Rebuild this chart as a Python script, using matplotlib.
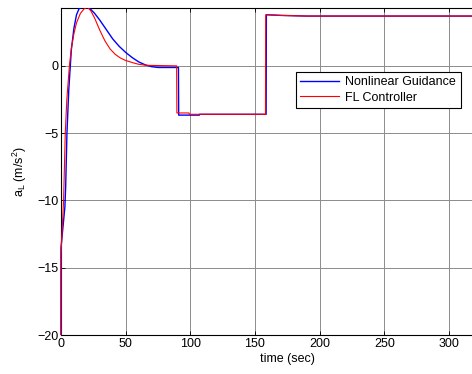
import numpy as np
import matplotlib
matplotlib.use("Agg")
import matplotlib.pyplot as plt
from matplotlib.patches import Rectangle

plt.rcParams['font.family'] = ['Liberation Sans', 'DejaVu Sans']
plt.rcParams['mathtext.fontset'] = 'custom'
plt.rcParams['mathtext.rm'] = 'Liberation Sans'
plt.rcParams['mathtext.it'] = 'Liberation Sans'

# Nonlinear Guidance (blue)
t_ng = [0, 0.01, 0.5, 1.5, 3, 3.6, 4.6, 6, 7.2, 8, 10, 12, 14, 17, 20, 23, 26, 30, 35,
        40, 45, 50, 55, 60, 65, 70, 75, 90.8, 91, 107, 107.2, 158.6, 158.8, 170, 190, 350]
a_ng = [-20, -13.5, -13, -12, -10.5, -9, -5, -1.8, 0, 1.2, 2.8, 3.8, 4.25, 4.4, 4.4, 4.2, 3.9, 3.4, 2.7,
        2.0, 1.45, 1.0, 0.62, 0.3, 0.08, -0.06, -0.12, -0.12, -3.66, -3.66, -3.6, -3.6, 3.8, 3.75, 3.7, 3.7]

# FL Controller (red)
t_fl = [0, 0.01, 0.5, 1, 2, 3.3, 4.5, 6.5, 8, 10, 12, 15, 18, 20.5, 23, 26, 30, 34,
        38, 42, 46, 50, 56, 60, 66, 89.4, 89.6, 99, 99.2, 158.1, 158.3, 170, 190, 350]
a_fl = [-20, -14, -13, -12, -10, -5, -2.5, 0, 1.3, 2.4, 3.2, 3.9, 4.25, 4.35, 4.1, 3.55, 2.65, 1.85,
        1.25, 0.85, 0.58, 0.4, 0.22, 0.12, 0.04, 0.0, -3.5, -3.5, -3.6, -3.6, 3.8, 3.75, 3.7, 3.7]

fig = plt.figure(figsize=(4.72, 3.74), dpi=100)
ax = fig.add_axes([61 / 472, 1 - 335 / 374, 350 * 1.2933 / 472, 327 / 374])

# clip a little wider on the left so the t=0 jump shows over the spine
clip = Rectangle((-0.005, 0), 1.01, 1, transform=ax.transAxes, visible=False)
ax.add_patch(clip)
l1, = ax.plot(t_ng, a_ng, color='#0000ff', lw=1.0, label='Nonlinear Guidance', zorder=3)
l2, = ax.plot(t_fl, a_fl, color='#ff0000', lw=0.8, label='FL Controller', zorder=3)
for ln in (l1, l2):
    ln.set_clip_path(clip)

ax.set_xlim(0, 350)
ax.set_ylim(-20, 4.3)
ax.set_xticks(np.arange(0, 301, 50))
ax.set_yticks(np.arange(-20, 1, 5))
ax.grid(True, color='#8c8c8c', linestyle='-', lw=0.7)
ax.tick_params(direction='in', top=True, right=True, length=3, width=0.6, labelsize=9, pad=2)
for s in ax.spines.values():
    s.set_linewidth(0.8)

ax.set_xlabel('time (sec)', fontsize=9, labelpad=2)
ax.set_ylabel(r'a$_\mathregular{L}$ (m/s$^\mathregular{2}$)', fontsize=9, labelpad=6)

leg = fig.legend(loc='upper left', bbox_to_anchor=(296 / 472, 1 - 71.5 / 374),
                 bbox_transform=fig.transFigure, fontsize=9, frameon=True,
                 fancybox=False, framealpha=1, edgecolor='black', handlelength=3.1,
                 handletextpad=0.5, labelspacing=0.3, borderpad=0.35, borderaxespad=0)
leg.get_frame().set_linewidth(0.8)

fig.savefig('out.png', dpi=100)
